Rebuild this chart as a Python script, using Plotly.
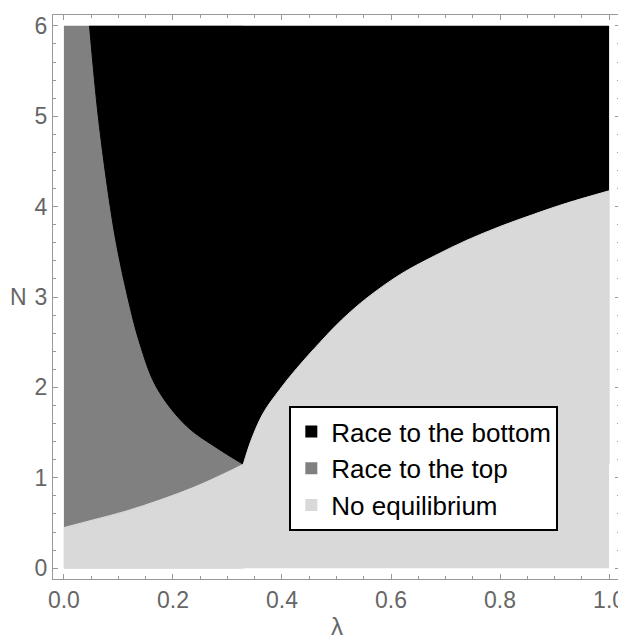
import plotly.graph_objects as go

# Boundary between "No equilibrium" (below) and "Race to the top" (above)
lower_lam = [0.0, 0.053, 0.115, 0.176, 0.237, 0.298, 0.329]
lower_N = [0.449, 0.533, 0.633, 0.754, 0.891, 1.057, 1.149]

# Boundary between "Race to the top" (left) and "Race to the bottom" (right), from top down
left_lam = [0.047, 0.063, 0.085, 0.0985, 0.117, 0.139, 0.170, 0.225, 0.280, 0.329]
left_N = [6.0, 5.0, 4.0, 3.52, 3.0, 2.49, 2.0, 1.572, 1.333, 1.149]

# Boundary between "Race to the bottom" (above) and "No equilibrium" (below), from apex right
right_lam = [0.329, 0.344, 0.366, 0.396, 0.427, 0.470, 0.510, 0.556, 0.617, 0.678, 0.739, 0.800, 0.862, 0.923, 1.0]
right_N = [1.149, 1.425, 1.719, 1.977, 2.21, 2.50, 2.75, 2.99, 3.25, 3.45, 3.628, 3.78, 3.916, 4.04, 4.175]

lam_min, lam_max = 0.0, 1.0
N_min, N_max = 0.0, 6.0

region_names = ["Race to the bottom", "Race to the top", "No equilibrium"]
region_colors = ["#000000", "#808080", "#d9d9d9"]
BLACK, GRAY, LIGHT = region_colors

apex_lam, apex_N = left_lam[-1], left_N[-1]

fig = go.Figure()

# Race to the top: base layer on the left part of the box
fig.add_shape(type="rect", xref="x", yref="y", x0=lam_min, x1=apex_lam, y0=N_min, y1=N_max,
              fillcolor=GRAY, line=dict(width=0), layer="below")
# Race to the bottom: right of the left boundary curve
fig.add_trace(go.Scatter(x=[lam_max, lam_max], y=[N_max, apex_N], mode="lines",
                         line=dict(width=0, color=BLACK), showlegend=False, hoverinfo="skip"))
fig.add_trace(go.Scatter(x=left_lam, y=left_N, fill="tonextx", fillcolor=BLACK, mode="lines",
                         line=dict(color=BLACK, width=1, shape="spline", smoothing=1),
                         showlegend=False, hoverinfo="skip"))
# No equilibrium: below the lower curve and below the right curve
fig.add_trace(go.Scatter(x=lower_lam, y=lower_N, fill="tozeroy", fillcolor=LIGHT, mode="lines",
                         line=dict(color=LIGHT, width=1, shape="spline", smoothing=1),
                         showlegend=False, hoverinfo="skip"))
fig.add_trace(go.Scatter(x=right_lam, y=right_N, fill="tozeroy", fillcolor=LIGHT, mode="lines",
                         line=dict(color=LIGHT, width=1, shape="spline", smoothing=1),
                         showlegend=False, hoverinfo="skip"))
# hide the anti-aliasing seam between the two light fills
fig.add_trace(go.Scatter(x=[apex_lam, apex_lam], y=[N_min, apex_N * 0.97], mode="lines",
                         line=dict(color=LIGHT, width=2), showlegend=False, hoverinfo="skip"))

for name, c in zip(region_names, region_colors):
    fig.add_trace(go.Scatter(x=[None], y=[None], mode="markers", name=name,
                             marker=dict(symbol="square", size=10, color=c)))

frame_color = "#999999"
FONT = "Liberation Sans, Arial, sans-serif"
tick_font = dict(family=FONT, size=23, color="#666666")

# page body has an 8px default margin, so the figure is 8px smaller than the window
fig.update_layout(
    template="none",
    width=618, height=631,
    margin=dict(l=45, r=6, t=7, b=60),
    plot_bgcolor="white", paper_bgcolor="white",
    font=tick_font,
    xaxis=dict(range=[-0.02, 1.02], showgrid=False, zeroline=False, automargin=False,
               showline=True, linecolor=frame_color, linewidth=1, mirror="ticks",
               ticks="inside", ticklen=5, tickcolor=frame_color, tickwidth=1,
               tick0=0, dtick=0.2, tickformat=".1f", tickfont=tick_font,
               minor=dict(ticks="inside", ticklen=3, tickcolor=frame_color, dtick=0.05)),
    yaxis=dict(range=[-0.12, 6.12], showgrid=False, zeroline=False, automargin=False,
               showline=True, linecolor=frame_color, linewidth=1, mirror="ticks",
               ticks="inside", ticklen=5, tickcolor=frame_color, tickwidth=1,
               tick0=0, dtick=1, tickfont=tick_font,
               minor=dict(ticks="inside", ticklen=3, tickcolor=frame_color, dtick=0.2)),
    showlegend=True,
    legend=dict(x=0.4168, y=0.3067, xanchor="left", yanchor="top", traceorder="normal",
                bgcolor="white", bordercolor="black", borderwidth=2,
                font=dict(family=FONT, size=26, color="black"),
                itemsizing="constant"),
    annotations=[
        dict(text="N", xref="paper", yref="y", x=-0.06, y=3, xanchor="center", yanchor="middle",
             showarrow=False, font=dict(family=FONT, size=23, color="#666666")),
        dict(text="λ", xref="x", yref="paper", x=0.5, y=-0.085, xanchor="center", yanchor="middle",
             showarrow=False, font=dict(family=FONT, size=24, color="#666666")),
    ],
)

fig.write_html("out.html")
